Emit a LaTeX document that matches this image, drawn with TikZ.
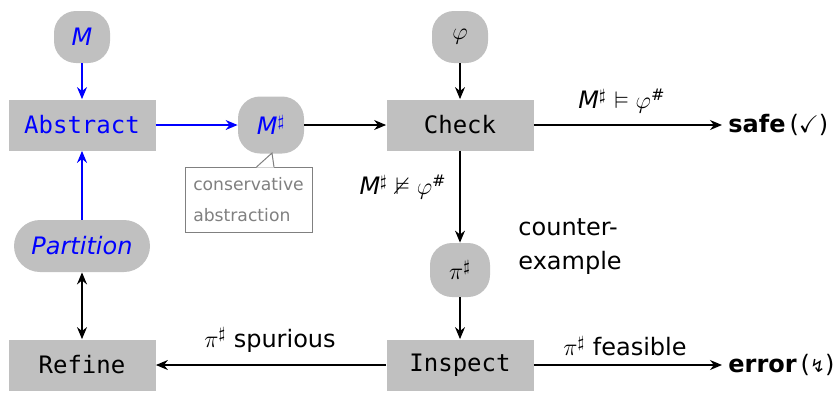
\documentclass[tikz,border=0pt]{standalone}
\usepackage{fontspec}
\usepackage{amssymb}
\setmainfont{DejaVu Sans}
\setmonofont{DejaVu Sans Mono}
\newfontfamily\symbfont{DejaVu Sans}
\usetikzlibrary{arrows.meta}
\definecolor{boxgray}{RGB}{192,192,192}
\definecolor{notegray}{RGB}{128,128,128}
\newcommand{\Msh}{\textit{M}$^\sharp$}
\tikzset{
  stepbox/.style={fill=boxgray, minimum width=73.5pt, minimum height=25.5pt, inner sep=0pt,
    font=\fontsize{12}{14}\selectfont\ttfamily},
  blob/.style={fill=boxgray, rounded corners=11pt, minimum width=28pt, minimum height=26pt,
    inner sep=0pt, font=\fontsize{12}{14}\selectfont},
  lbl/.style={font=\fontsize{12}{14}\selectfont, inner sep=1pt},
  result/.style={lbl, anchor=west, inner sep=3pt},
  flow/.style={-{Stealth[length=6pt,width=5pt]}, line width=0.65pt},
  bflow/.style={flow, blue}
}
\begin{document}
\begin{tikzpicture}[x=0.5pt,y=-0.5pt]
            \useasboundingbox (0,0) rectangle (836,393);

            % steps
            \node[stepbox, text=blue] (abs) at (82,125) {Abstract};
            \node[stepbox] (check) at (460,125) {Check};
            \node[stepbox] (inspect) at (460,365) {Inspect};
            \node[stepbox] (refine) at (82,365) {Refine};

            % data
            \node[blob, text=blue] (m) at (82,37) {\textit{M}};
            \node[blob] (phi) at (460,37) {$\varphi$};
            \node[blob, text=blue, minimum width=33pt, minimum height=28.5pt] (msh) at (271,125) {\Msh};
            \node[blob, minimum width=30pt, minimum height=27pt] (pi) at (460,270) {$\pi^\sharp$};
            \node[blob, text=blue, minimum width=68pt, rounded corners=13pt] (part) at (82,246) {\textit{Partition}};

            % results
            \node[result] (safe) at (722,125) {\textbf{safe}\,($\checkmark$)};
            \node[result] (error) at (722,365) {\textbf{error}\,({\symbfont\fontsize{9}{10}\selectfont ↯})};
            \node[lbl, anchor=west, align=left, font=\fontsize{12}{17}\selectfont] (cex) at (516,247) {counter-\\example};

            % note
            \node[draw=notegray, fill=white, line width=0.5pt, text=notegray, align=left,
                  minimum width=63.5pt, minimum height=32.5pt, inner sep=0pt,
                  font=\fontsize{8.6}{15.5}\selectfont] (note) at (248.5,199.5) {conservative\\abstraction};
            \coordinate (tip) at (272,153);
            \fill[white] (256.5,167.5) -- (tip) -- (274,167.5) -- cycle;
            \draw[notegray, line width=0.5pt] (256.5,167) -- (tip) -- (274,167);

            % edges
            \draw[bflow] (m) -- (abs);
            \draw[bflow] (part) -- (abs);
            \draw[bflow] (abs) -- (msh);
            \draw[flow] (msh) -- (check);
            \draw[flow] (phi) -- (check);
            \draw[flow] (check) -- (safe);
            \draw[flow] (check) -- (pi);
            \draw[flow] (pi) -- (inspect);
            \draw[flow] (inspect) -- (refine);
            \draw[flow] (inspect) -- (error);
            \draw[line width=0.65pt, {Stealth[length=6pt,width=5pt]}-{Stealth[length=6pt,width=5pt]}] (refine) -- (part);

            % edge labels
            \node[lbl] (sat) at (622,101) {\Msh{} $\vDash \varphi^{\#}$};
            \node[lbl, anchor=east] (unsat) at (449,187) {\Msh{} $\nvDash \varphi^{\#}$};
            \node[lbl] (spur) at (270,340) {$\pi^\sharp$ spurious};
            \node[lbl] (feas) at (625,346) {$\pi^\sharp$ feasible};
        \end{tikzpicture}
\end{document}
